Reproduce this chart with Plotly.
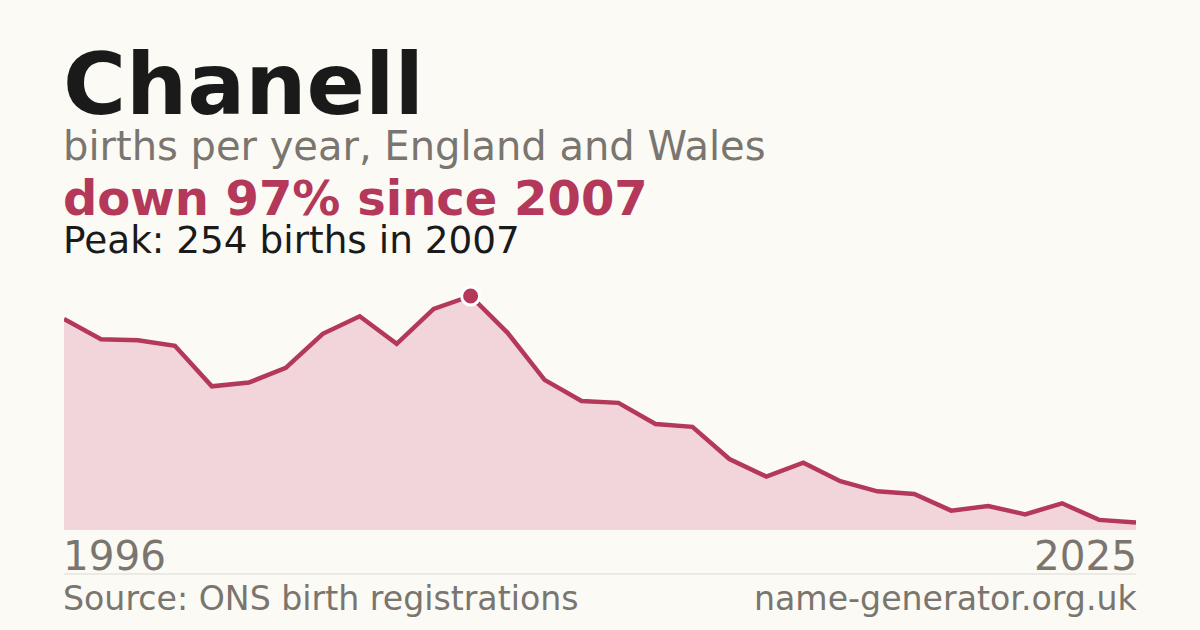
import plotly.graph_objects as go

# Births per year for the name
years = list(range(1996, 2026))
births = [229, 207, 206, 200, 156, 160, 176, 213, 232, 202,
          240, 254, 214, 163, 140, 138, 115, 112, 77, 58,
          73, 53, 42, 39, 21, 26, 17, 29, 11, 8]

name = 'Chanell'
subtitle = 'births per year, England and Wales'
source = 'Source: ONS birth registrations'
site = 'name-generator.org.uk'

BG = '#fbfaf5'
CRIMSON = '#b3385a'
FILL = '#f2d5da'
GREY = '#7a756f'
INK = '#1a1a1a'
FONT = 'DejaVu Sans'

W, H = 1200, 630
M_L, M_R, M_T, M_B = 64, 64, 280, 100
PLOT_H = H - M_T - M_B


def py(pixel_y):
    # pixel row -> paper y
    return (H - M_B - pixel_y) / PLOT_H


peak = max(births)
peak_year = years[births.index(peak)]
drop = round(100 * (peak - births[-1]) / peak)

fig = go.Figure()
fig.add_trace(go.Scatter(
    x=years, y=births, mode='lines', fill='tozeroy',
    fillcolor=FILL, line=dict(color=CRIMSON, width=4.5),
    hoverinfo='skip'))
fig.add_trace(go.Scatter(
    x=[peak_year], y=[peak], mode='markers',
    marker=dict(size=18, color=CRIMSON, line=dict(color='white', width=3)),
    hoverinfo='skip', cliponaxis=False))

texts = [
    (name, 86, INK, True, 84),
    (subtitle, 40, GREY, False, 146),
    ('down %d%% since %d' % (drop, peak_year), 48, CRIMSON, True, 198),
    ('Peak: %d births in %d' % (peak, peak_year), 37.4, INK, False, 240),
]
for txt, size, color, bold, yc in texts:
    fig.add_annotation(
        text='<b>%s</b>' % txt if bold else txt,
        xref='paper', yref='paper', x=0, y=py(yc), xshift=-3,
        xanchor='left', yanchor='middle', showarrow=False,
        font=dict(family=FONT, size=size, color=color))

fig.add_annotation(text=str(years[0]), xref='x', yref='paper', x=years[0],
                   y=py(556), xshift=-3, xanchor='left', yanchor='middle',
                   showarrow=False, font=dict(family=FONT, size=40.5, color=GREY))
fig.add_annotation(text=str(years[-1]), xref='x', yref='paper', x=years[-1],
                   y=py(556), xshift=3, xanchor='right', yanchor='middle',
                   showarrow=False, font=dict(family=FONT, size=40.5, color=GREY))
fig.add_annotation(text=source, xref='paper', yref='paper', x=0, y=py(598),
                   xshift=-3, xanchor='left', yanchor='middle', showarrow=False,
                   font=dict(family=FONT, size=33.2, color=GREY))
fig.add_annotation(text=site, xref='paper', yref='paper', x=1, y=py(598),
                   xshift=3, xanchor='right', yanchor='middle', showarrow=False,
                   font=dict(family=FONT, size=33.2, color=GREY))

fig.add_shape(type='line', xref='paper', yref='paper', x0=0, x1=1,
              y0=py(574), y1=py(574), line=dict(color='#dedad3', width=1))

fig.update_layout(
    width=W, height=H,
    margin=dict(l=M_L, r=M_R, t=M_T, b=M_B),
    paper_bgcolor=BG, plot_bgcolor=BG,
    showlegend=False,
    xaxis=dict(range=[years[0], years[-1]], visible=False, fixedrange=True),
    yaxis=dict(range=[0, peak * PLOT_H / 234], visible=False, fixedrange=True),
)

# drop the default page margin so the figure sits at the window's corner
page_js = ("document.body.style.margin='0';"
           "document.body.style.background='%s';" % BG)
fig.write_html('out.html', config={'displayModeBar': False},
               post_script=page_js)
